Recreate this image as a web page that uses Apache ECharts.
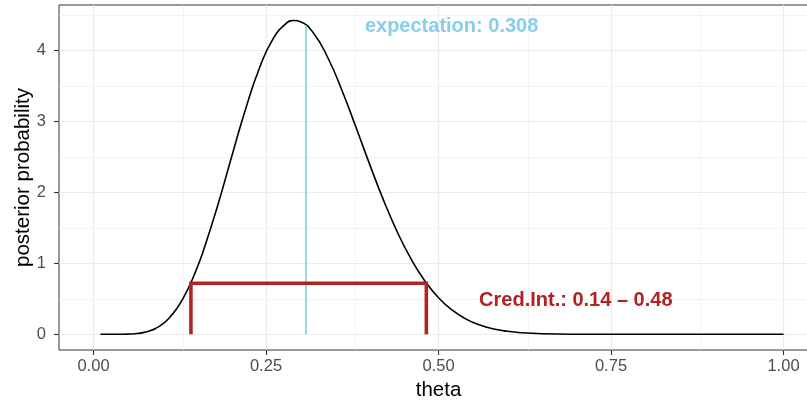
<!DOCTYPE html>
<html>
<head>
<meta charset="utf-8">
<script src="https://cdn.jsdelivr.net/npm/echarts@6/dist/echarts.min.js"></script>
<style>html,body{margin:0;padding:0;background:#fff}#c{width:807px;height:402px}</style>
</head>
<body>
<div id="c"></div>
<script>
// values
var thetaVals = [0.01,0.02,0.03,0.04,0.05,0.06,0.07,0.08,0.09,0.10,0.11,0.12,0.13,0.14,0.15,0.16,0.18,0.20,0.22,0.24,0.26,0.28,0.29,0.30,0.32,0.34,0.36,0.38,0.40,0.42,0.44,0.46,0.48,0.50,0.52,0.54,0.56,0.58,0.60,0.62,0.65,0.70,0.75,0.80,0.90,1.00];
var densityVals = [0,0,0.0001,0.0007,0.0028,0.0085,0.0207,0.044,0.083,0.144,0.233,0.353,0.509,0.702,0.933,1.199,1.815,2.494,3.160,3.737,4.158,4.385,4.419,4.403,4.226,3.888,3.438,2.926,2.400,1.897,1.447,1.065,0.755,0.516,0.339,0.214,0.130,0.075,0.042,0.022,0.0075,0.0009,0,0,0,0];
var expectation = 0.308;
var expectationHeight = 4.35;
var credLow = 0.1412;
var credHigh = 0.4824;
var credHeight = 0.72;
var expLabel = 'expectation: 0.308';
var credLabel = 'Cred.Int.: 0.14 – 0.48';
var expLabelPos = [0.519, 4.33];
var credLabelPos = [0.699, 0.47];
var xTicks = [0, 0.25, 0.5, 0.75, 1];
var xMinor = [0.125, 0.375, 0.625, 0.875];
var yTicks = [0, 1, 2, 3, 4];
var yMinor = [0.5, 1.5, 2.5, 3.5, 4.5];
var xRange = [-0.05, 1.05];
var yRange = [-0.221, 4.638];

var chart = echarts.init(document.getElementById('c'), null, {renderer: 'canvas'});
var font = 'Liberation Sans, Arial, sans-serif';
var gridCol = '#EBEBEB';

function vLines(vals){ return vals.map(function(v){ return {xAxis: v}; }); }
function hLines(vals){ return vals.map(function(v){ return {yAxis: v}; }); }

var curve = thetaVals.map(function(t, i){ return [t, densityVals[i]]; });

var option = {
  animation: false,
  backgroundColor: '#fff',
  grid: {left: 59, width: 759, top: 5, height: 345, show: true, borderColor: '#333333', borderWidth: 1, backgroundColor: 'transparent', containLabel: false, outerBoundsMode: 'none'},
  xAxis: {
    type: 'value', min: xRange[0], max: xRange[1], position: 'bottom',
    name: 'theta', nameLocation: 'middle', nameGap: 30, nameMoveOverlap: false,
    nameTextStyle: {fontFamily: font, fontSize: 20.5, color: '#000'},
    axisLine: {show: false, onZero: false},
    axisTick: {show: true, inside: false, customValues: xTicks, length: 5, lineStyle: {color: '#333333', width: 1.1}},
    axisLabel: {customValues: xTicks, margin: 8, fontFamily: font, fontSize: 16.5, color: '#4D4D4D', formatter: function(v){ return v.toFixed(2); }},
    splitLine: {show: false}
  },
  yAxis: {
    type: 'value', min: yRange[0], max: yRange[1], position: 'left',
    name: 'posterior probability', nameLocation: 'middle', nameGap: 25, nameRotate: 90, nameMoveOverlap: false,
    nameTextStyle: {fontFamily: font, fontSize: 20.5, color: '#000'},
    axisLine: {show: false, onZero: false},
    axisTick: {show: true, inside: false, customValues: yTicks, length: 5, lineStyle: {color: '#333333', width: 1.1}},
    axisLabel: {customValues: yTicks, margin: 13, fontFamily: font, fontSize: 16.5, color: '#4D4D4D', formatter: function(v){ return String(Math.round(v)); }},
    splitLine: {show: false}
  },
  series: [
    {
      type: 'line', data: [], silent: true, z: 0,
      markLine: {silent: true, z: 0, symbol: 'none', label: {show: false}, animation: false,
        lineStyle: {color: gridCol, width: 0.6, type: 'solid'},
        data: vLines(xMinor).concat(hLines(yMinor))}
    },
    {
      type: 'line', data: [], silent: true, z: 0,
      markLine: {silent: true, z: 0, symbol: 'none', label: {show: false}, animation: false,
        lineStyle: {color: gridCol, width: 1.2, type: 'solid'},
        data: vLines(xTicks).concat(hLines(yTicks))}
    },
    {
      type: 'line', data: curve, smooth: true, showSymbol: false, symbol: 'none',
      lineStyle: {color: '#000', width: 1.6}, z: 3
    },
    {
      type: 'line', data: [[expectation, 0], [expectation, expectationHeight]], showSymbol: false, symbol: 'none',
      lineStyle: {color: '#87CEEB', width: 1.7}, z: 4
    },
    {
      type: 'line', data: [[credLow, 0], [credLow, credHeight], [credHigh, credHeight], [credHigh, 0]], showSymbol: false, symbol: 'none',
      lineStyle: {color: '#B22222', width: 3.6, join: 'miter', cap: 'butt'}, z: 5
    },
    {
      type: 'scatter', symbolSize: 1, itemStyle: {color: 'rgba(0,0,0,0)', opacity: 1}, z: 6,
      data: [{value: expLabelPos, label: {formatter: expLabel, color: '#87CEEB'}},
             {value: credLabelPos, label: {formatter: credLabel, color: '#B22222'}}],
      label: {show: true, position: 'inside', fontFamily: font, fontSize: 20, fontWeight: 'bold', opacity: 1, textBorderWidth: 0}
    }
  ]
};
chart.setOption(option);
</script>
</body>
</html>
